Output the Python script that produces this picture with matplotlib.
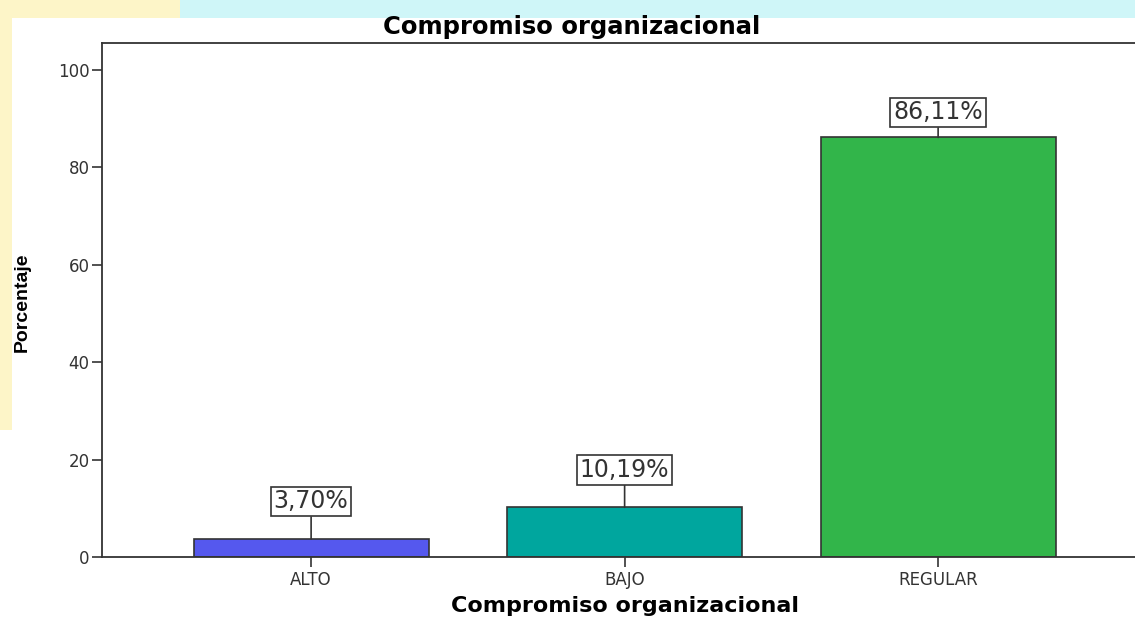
import matplotlib
matplotlib.use("Agg")
import matplotlib.pyplot as plt
from matplotlib.patches import Rectangle

categories = ["ALTO", "BAJO", "REGULAR"]
values = [3.70, 10.19, 86.11]
labels = ["3,70%", "10,19%", "86,11%"]
colors = ["#5558EE", "#00A69E", "#32B54A"]
yticks = [0, 20, 40, 60, 80, 100]

# vertical offset (points) of each value box above its bar
label_offsets = [27, 27, 18]

plt.rcParams['font.family'] = ['DejaVu Sans']

W, H = 1135, 617
fig = plt.figure(figsize=(W / 100, H / 100), dpi=100)

# background bands of the original screenshot
fig.patches.append(Rectangle((0, 1 - 18 / H), 1, 18 / H, transform=fig.transFigure,
                             fc="#CFF6F8", ec="none", zorder=0))
fig.patches.append(Rectangle((0, 1 - 18 / H), 180 / W, 18 / H, transform=fig.transFigure,
                             fc="#FDF5C8", ec="none", zorder=0))
fig.patches.append(Rectangle((0, 1 - 430 / H), 12 / W, 412 / H, transform=fig.transFigure,
                             fc="#FDF5C8", ec="none", zorder=0))

ax = fig.add_axes([102 / W, 1 - 557 / H, 1 - 102 / W, (557 - 43) / H])

x = list(range(len(categories)))
ax.bar(x, values, width=0.75, color=colors, edgecolor="#333333", linewidth=1.2, zorder=2)
ax.set_xlim(-0.667, 2.628)
ax.set_ylim(0, 105.5)
ax.set_yticks(yticks)
ax.set_yticklabels([str(t) for t in yticks])
ax.set_xticks(x)
ax.set_xticklabels(categories)
ax.tick_params(axis='both', direction='out', length=7, width=1.2, colors="#333333",
               labelsize=12, labelcolor="#333333")
ax.tick_params(axis='y', pad=2)
ax.tick_params(axis='x', pad=3)
for s in ['left', 'bottom', 'top']:
    ax.spines[s].set_linewidth(1.3)
    ax.spines[s].set_color("#333333")
ax.spines['right'].set_visible(False)

for xi, v, lab, off in zip(x, values, labels, label_offsets):
    ax.annotate(lab, xy=(xi, v), xytext=(0, off), textcoords='offset points',
                ha='center', va='center', fontsize=17, color="#333333",
                bbox=dict(boxstyle='square,pad=0.12', fc='white', ec='#333333', lw=1.2),
                arrowprops=dict(arrowstyle='-', color='#333333', lw=1.2,
                                shrinkA=0, shrinkB=0))

fig.text(572 / W, 1 - 27 / H, "Compromiso organizacional", ha='center', va='center',
         fontsize=17.5, fontweight='bold')
fig.text(625 / W, 1 - 606 / H, "Compromiso organizacional", ha='center', va='center',
         fontsize=16, fontweight='bold')
fig.text(22 / W, 1 - 302 / H, "Porcentaje", ha='center', va='center', rotation=90,
         fontsize=14, fontweight='bold', family=['Liberation Sans', 'DejaVu Sans'])

fig.savefig("out.png", dpi=100)
